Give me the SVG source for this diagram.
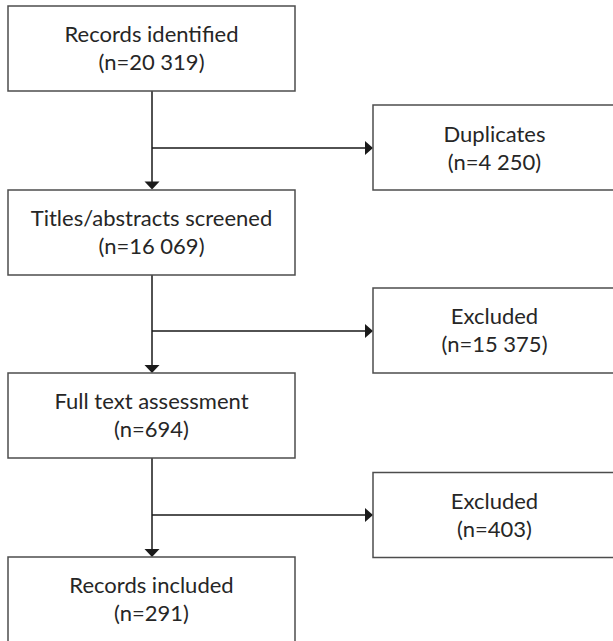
<svg xmlns="http://www.w3.org/2000/svg" width="613" height="641" viewBox="0 0 613 641">
<style>
.box{fill:#fff;stroke:#4d4d4d;stroke-width:1.5}
.lbl{font-family:Lato,"Open Sans",sans-serif;font-size:22px;fill:#262626;text-anchor:middle}
.con{stroke:#1a1a1a;stroke-width:1.5;fill:none}
.ah{fill:#1a1a1a}
</style>
<rect width="613" height="641" fill="#fff"/>
<g id="connectors">
<path class="con" d="M152 91V182M152 148H365"/>
<polygon class="ah" points="144.5,181.5 159.5,181.5 152,189.5"/>
<polygon class="ah" points="365,141 365,155 373,148"/>
<path class="con" d="M152 275V366M152 331H365"/>
<polygon class="ah" points="144.5,365 159.5,365 152,373"/>
<polygon class="ah" points="365,324 365,338 373,331"/>
<path class="con" d="M152 458V549M152 515H365"/>
<polygon class="ah" points="144.5,549 159.5,549 152,557"/>
<polygon class="ah" points="365,508 365,522 373,515"/>
</g>
<g id="n1">
<rect class="box" x="8" y="6" width="287" height="85"/>
<text class="lbl" x="151.5" y="42">Records identified</text>
<text class="lbl" x="151.5" y="70">(n=20 319)</text>
</g>
<g id="n2">
<rect class="box" x="373" y="105" width="250" height="85"/>
<text class="lbl" x="494.5" y="141.5">Duplicates</text>
<text class="lbl" x="494.5" y="169.5">(n=4 250)</text>
</g>
<g id="n3">
<rect class="box" x="8" y="190" width="287" height="85"/>
<text class="lbl" x="151.5" y="226">Titles/abstracts screened</text>
<text class="lbl" x="151.5" y="254">(n=16 069)</text>
</g>
<g id="n4">
<rect class="box" x="373" y="288" width="250" height="85"/>
<text class="lbl" x="494.5" y="324">Excluded</text>
<text class="lbl" x="494.5" y="352">(n=15 375)</text>
</g>
<g id="n5">
<rect class="box" x="8" y="373" width="287" height="85"/>
<text class="lbl" x="151.5" y="409">Full text assessment</text>
<text class="lbl" x="151.5" y="437">(n=694)</text>
</g>
<g id="n6">
<rect class="box" x="373" y="472.5" width="250" height="85"/>
<text class="lbl" x="494.5" y="508.5">Excluded</text>
<text class="lbl" x="494.5" y="536.5">(n=403)</text>
</g>
<g id="n7">
<rect class="box" x="8" y="557" width="287" height="85"/>
<text class="lbl" x="151.5" y="593">Records included</text>
<text class="lbl" x="151.5" y="621">(n=291)</text>
</g>
</svg>
